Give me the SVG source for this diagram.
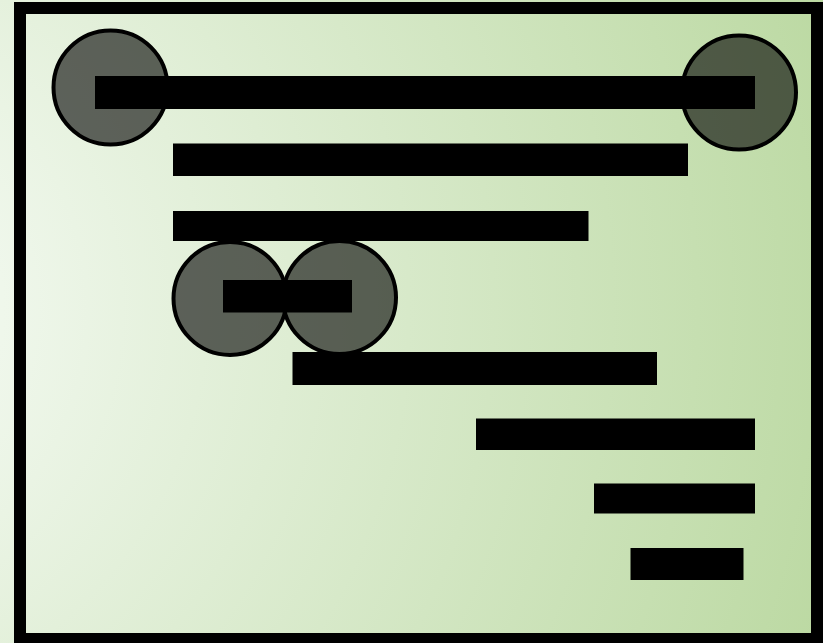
<svg xmlns="http://www.w3.org/2000/svg" width="823" height="643" viewBox="0 0 823 643">
  <defs>
    <radialGradient id="bg" gradientUnits="userSpaceOnUse" cx="-200" cy="310" r="1100">
      <stop offset="0" stop-color="#fbfefc"/>
      <stop offset="1" stop-color="#bad8a0"/>
    </radialGradient>
  </defs>
  <style>
    .frame { fill: none; stroke: #000; stroke-width: 12; }
    .bar { fill: #000; }
    .node circle { fill: #000; fill-opacity: 0.6; stroke: #000; stroke-width: 4; }
  </style>
  <rect x="0" y="0" width="823" height="643" fill="url(#bg)"/>
  <rect class="frame" x="20" y="8" width="797" height="631"/>

  <g id="circles">
    <g id="circle-top-left" class="node"><circle cx="110.5" cy="87.5" r="57"/></g>
    <g id="circle-top-right" class="node"><circle cx="739" cy="92.5" r="57"/></g>
    <g id="circle-mid-left" class="node"><circle cx="230" cy="298.5" r="56.5"/></g>
    <g id="circle-mid-right" class="node"><circle cx="339.5" cy="297.5" r="56.5"/></g>
  </g>

  <g id="bars">
    <rect class="bar" x="95" y="76" width="660" height="33"/>
    <rect class="bar" x="173" y="143.5" width="515" height="32.5"/>
    <rect class="bar" x="173" y="211" width="415.5" height="30"/>
    <rect class="bar" x="223" y="280" width="129" height="32.5"/>
    <rect class="bar" x="292.5" y="352" width="364.5" height="33"/>
    <rect class="bar" x="476" y="418.5" width="279" height="31.5"/>
    <rect class="bar" x="594" y="483.5" width="161" height="30"/>
    <rect class="bar" x="630.5" y="548" width="113" height="32"/>
  </g>
</svg>
